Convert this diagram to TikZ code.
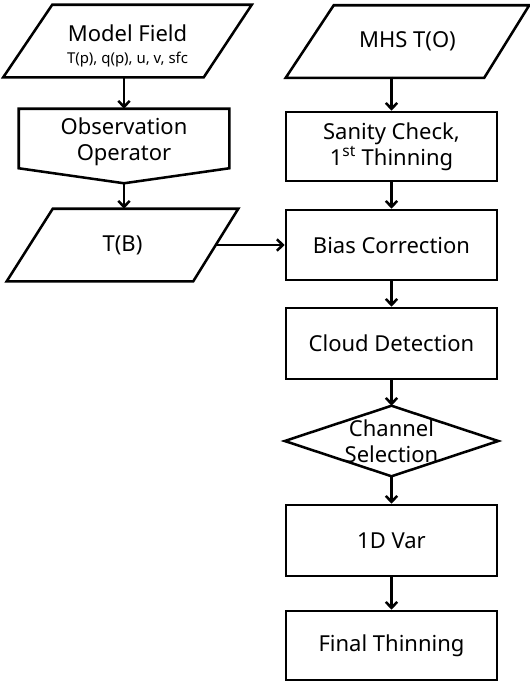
\documentclass[tikz,border=0pt]{standalone}
\usepackage{fontspec}
\setmainfont{Noto Sans}
\usetikzlibrary{arrows.meta,calc}
\begin{document}
\begin{tikzpicture}[x=0.75pt,y=-0.75pt,
  line width=1.9pt,
  every node/.style={font=\fontsize{16.5}{19.5}\selectfont, align=center, inner sep=0pt},
  ghost/.style 2 args={minimum width=#1*0.75pt, minimum height=#2*0.75pt},
  box/.style={draw, minimum width=158.25pt, minimum height=#1*0.75pt},
  arr/.style={-{Straight Barb[length=4.5pt,width=8.5pt]}},
]
\useasboundingbox (0,0) rectangle (530,682);

% left column
\node[ghost={246}{58}] (model) at (127.5,46)
  {Model Field\\[-3pt]{\fontsize{11.2}{12}\selectfont T(p), q(p), u, v, sfc}};
\draw ($(model.north west)+(49,-11)$) -- ($(model.north east)+(0,-11)$)
  -- ($(model.south east)+(-48,1)$) -- ($(model.south west)+(0,1)$) -- cycle;
\coordinate (modelB) at (124,76);

\node[ghost={208}{64}] (obs) at (124,142) {Observation\\Operator};
\coordinate (obsTip) at ($(obs.south)+(0,8)$);
\draw (obs.north west) -- (obs.north east) -- ($(obs.south east)+(0,-7)$)
  -- (obsTip) -- ($(obs.south west)+(0,-7)$) -- cycle;

\node[ghost={229}{70}] (tb) at (122.5,245) {T(B)};
\draw ($(tb.north west)+(46,0)$) -- (tb.north east)
  -- ($(tb.south east)+(-45,0)$) -- (tb.south west) -- cycle;
\coordinate (tbR) at ($(tb.east)+(-22.5,0)$);

% right column
\node[ghost={241}{70}] (mhs) at (407.5,41.5) {MHS T(O)};
\draw ($(mhs.north west)+(48,0)$) -- (mhs.north east)
  -- ($(mhs.south east)+(-45,0)$) -- (mhs.south west) -- cycle;
\coordinate (mhsB) at (391.5,76.5);

\node[box=69] (san) at (391.5,146.5) {Sanity Check,\\1\textsuperscript{st} Thinning};
\node[box=70] (bias) at (391.5,245) {Bias Correction};
\node[box=71] (cloud) at (391.5,343.5) {Cloud Detection};
\node[ghost={211}{68}] (chan) at (391.5,441) {Channel\\Selection};
\draw (chan.west) -- (chan.north) -- (chan.east) -- (chan.south) -- cycle;
\node[box=71] (var) at (391.5,540.5) {1D Var};
\node[box=69] (fin) at (391.5,645.5) {Final Thinning};

% connectors
\draw[arr] (modelB) -- (obs.north);
\draw[arr] (obsTip) -- (tb.north -| obsTip);
\draw[arr] (tbR) -- (bias.west);
\draw[arr] (mhsB) -- (san.north);
\draw[arr] (san) -- (bias);
\draw[arr] (bias) -- (cloud);
\draw[arr] (cloud) -- (chan.north);
\draw[arr] (chan.south) -- (var);
\draw[arr] (var) -- (fin);
\end{tikzpicture}
\end{document}
